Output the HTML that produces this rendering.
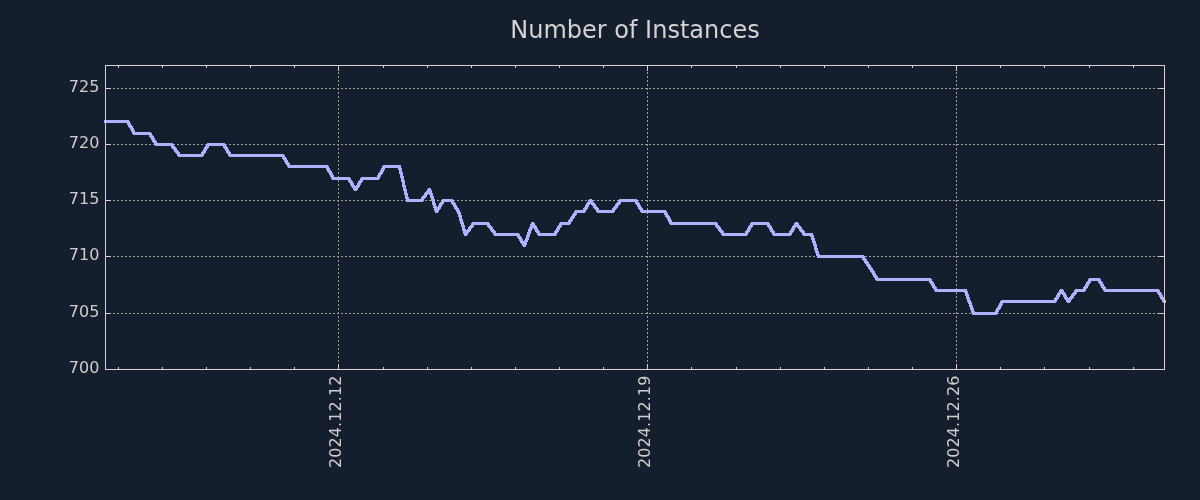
<!DOCTYPE html>
<html lang="en"><head><meta charset="utf-8"><title>Number of Instances</title>
<style>
html,body{margin:0;padding:0;background:#151e2c;}
body{width:1200px;height:500px;overflow:hidden;}
svg{display:block;}
text{font-family:"DejaVu Sans","Liberation Sans",sans-serif;fill:#cecece;}
.tk{font-size:16px;}
.xl{letter-spacing:0.1px;}
.ti{font-size:24px;fill:#d3d3d3;}
</style></head><body>
<svg width="1200" height="500" viewBox="0 0 1200 500">
<rect x="0" y="0" width="1200" height="500" fill="#151e2c"/>
<text class="ti" x="635" y="38" text-anchor="middle">Number of Instances</text>
<g id="grid" stroke="#a0a0a0" stroke-width="1" stroke-dasharray="2 2" fill="none" shape-rendering="crispEdges">
<line x1="105" y1="88.5" x2="1165" y2="88.5"/>
<line x1="105" y1="144.5" x2="1165" y2="144.5"/>
<line x1="105" y1="200.5" x2="1165" y2="200.5"/>
<line x1="105" y1="256.5" x2="1165" y2="256.5"/>
<line x1="105" y1="313.5" x2="1165" y2="313.5"/>
<line x1="338.5" y1="370" x2="338.5" y2="65"/>
<line x1="647.5" y1="370" x2="647.5" y2="65"/>
<line x1="956.5" y1="370" x2="956.5" y2="65"/>
</g>
<path id="series" d="M104 120h25v1h-25zM104 121h26v1h-26zM104 122h26v1h-26zM127 123h4v1h-4zM127 124h4v1h-4zM128 125h4v1h-4zM128 126h5v1h-5zM129 127h4v1h-4zM130 128h4v1h-4zM130 129h4v1h-4zM131 130h4v1h-4zM131 131h4v1h-4zM132 132h19v1h-19zM132 133h20v1h-20zM133 134h19v1h-19zM149 135h4v1h-4zM149 136h5v1h-5zM150 137h4v1h-4zM151 138h4v1h-4zM151 139h4v1h-4zM152 140h4v1h-4zM152 141h5v1h-5zM153 142h4v1h-4zM154 143h19v1h-19zM207 143h18v1h-18zM154 144h20v1h-20zM206 144h20v1h-20zM155 145h19v1h-19zM206 145h20v1h-20zM171 146h4v1h-4zM205 146h4v1h-4zM223 146h4v1h-4zM171 147h5v1h-5zM204 147h5v1h-5zM223 147h5v1h-5zM172 148h5v1h-5zM204 148h4v1h-4zM224 148h4v1h-4zM173 149h4v1h-4zM203 149h4v1h-4zM225 149h4v1h-4zM174 150h4v1h-4zM203 150h4v1h-4zM225 150h4v1h-4zM174 151h5v1h-5zM202 151h4v1h-4zM226 151h4v1h-4zM175 152h5v1h-5zM201 152h5v1h-5zM226 152h5v1h-5zM176 153h4v1h-4zM201 153h4v1h-4zM227 153h4v1h-4zM177 154h27v1h-27zM228 154h56v1h-56zM177 155h27v1h-27zM228 155h57v1h-57zM178 156h25v1h-25zM229 156h56v1h-56zM282 157h4v1h-4zM282 158h5v1h-5zM283 159h4v1h-4zM284 160h4v1h-4zM284 161h4v1h-4zM285 162h4v1h-4zM285 163h5v1h-5zM286 164h4v1h-4zM287 165h41v1h-41zM383 165h18v1h-18zM287 166h42v1h-42zM382 166h19v1h-19zM288 167h41v1h-41zM382 167h19v1h-19zM326 168h4v1h-4zM381 168h4v1h-4zM398 168h4v1h-4zM326 169h4v1h-4zM381 169h4v1h-4zM398 169h4v1h-4zM327 170h4v1h-4zM380 170h4v1h-4zM399 170h3v1h-3zM327 171h5v1h-5zM380 171h4v1h-4zM399 171h3v1h-3zM328 172h4v1h-4zM379 172h4v1h-4zM399 172h4v1h-4zM329 173h4v1h-4zM378 173h5v1h-5zM399 173h4v1h-4zM329 174h4v1h-4zM378 174h4v1h-4zM400 174h3v1h-3zM330 175h4v1h-4zM377 175h4v1h-4zM400 175h3v1h-3zM330 176h4v1h-4zM377 176h4v1h-4zM400 176h4v1h-4zM331 177h19v1h-19zM361 177h19v1h-19zM400 177h4v1h-4zM331 178h20v1h-20zM360 178h20v1h-20zM401 178h3v1h-3zM332 179h19v1h-19zM360 179h19v1h-19zM401 179h3v1h-3zM348 180h4v1h-4zM359 180h4v1h-4zM401 180h4v1h-4zM348 181h5v1h-5zM358 181h5v1h-5zM401 181h4v1h-4zM349 182h4v1h-4zM358 182h4v1h-4zM402 182h3v1h-3zM350 183h4v1h-4zM357 183h4v1h-4zM402 183h3v1h-3zM350 184h4v1h-4zM357 184h4v1h-4zM402 184h3v1h-3zM351 185h4v1h-4zM356 185h4v1h-4zM402 185h4v1h-4zM351 186h9v1h-9zM402 186h4v1h-4zM352 187h7v1h-7zM403 187h3v1h-3zM353 188h5v1h-5zM403 188h3v1h-3zM428 188h3v1h-3zM353 189h5v1h-5zM403 189h4v1h-4zM427 189h4v1h-4zM354 190h3v1h-3zM403 190h4v1h-4zM427 190h5v1h-5zM404 191h3v1h-3zM426 191h6v1h-6zM404 192h3v1h-3zM425 192h7v1h-7zM404 193h4v1h-4zM424 193h9v1h-9zM404 194h4v1h-4zM424 194h4v1h-4zM429 194h4v1h-4zM405 195h3v1h-3zM423 195h4v1h-4zM430 195h3v1h-3zM405 196h3v1h-3zM422 196h5v1h-5zM430 196h4v1h-4zM405 197h4v1h-4zM421 197h5v1h-5zM430 197h4v1h-4zM405 198h4v1h-4zM421 198h4v1h-4zM431 198h3v1h-3zM406 199h18v1h-18zM431 199h4v1h-4zM442 199h11v1h-11zM589 199h3v1h-3zM619 199h18v1h-18zM406 200h18v1h-18zM431 200h4v1h-4zM441 200h13v1h-13zM588 200h5v1h-5zM618 200h20v1h-20zM406 201h17v1h-17zM432 201h3v1h-3zM441 201h13v1h-13zM588 201h5v1h-5zM618 201h20v1h-20zM432 202h3v1h-3zM440 202h4v1h-4zM451 202h4v1h-4zM587 202h7v1h-7zM617 202h4v1h-4zM635 202h4v1h-4zM432 203h4v1h-4zM439 203h5v1h-5zM451 203h5v1h-5zM586 203h9v1h-9zM616 203h5v1h-5zM635 203h5v1h-5zM432 204h4v1h-4zM439 204h4v1h-4zM452 204h4v1h-4zM586 204h4v1h-4zM591 204h5v1h-5zM615 204h5v1h-5zM636 204h4v1h-4zM433 205h3v1h-3zM438 205h4v1h-4zM453 205h4v1h-4zM585 205h4v1h-4zM592 205h4v1h-4zM615 205h4v1h-4zM637 205h4v1h-4zM433 206h4v1h-4zM438 206h4v1h-4zM453 206h4v1h-4zM585 206h4v1h-4zM593 206h4v1h-4zM614 206h4v1h-4zM637 206h4v1h-4zM433 207h8v1h-8zM454 207h4v1h-4zM584 207h4v1h-4zM593 207h5v1h-5zM613 207h5v1h-5zM638 207h4v1h-4zM434 208h7v1h-7zM454 208h5v1h-5zM583 208h5v1h-5zM594 208h5v1h-5zM612 208h5v1h-5zM638 208h5v1h-5zM434 209h6v1h-6zM455 209h4v1h-4zM583 209h4v1h-4zM595 209h4v1h-4zM612 209h4v1h-4zM639 209h4v1h-4zM434 210h5v1h-5zM456 210h4v1h-4zM575 210h11v1h-11zM596 210h19v1h-19zM640 210h26v1h-26zM435 211h4v1h-4zM456 211h4v1h-4zM574 211h12v1h-12zM596 211h19v1h-19zM640 211h27v1h-27zM435 212h3v1h-3zM457 212h4v1h-4zM574 212h11v1h-11zM597 212h17v1h-17zM641 212h26v1h-26zM457 213h4v1h-4zM573 213h4v1h-4zM664 213h4v1h-4zM458 214h3v1h-3zM572 214h5v1h-5zM664 214h4v1h-4zM458 215h4v1h-4zM572 215h4v1h-4zM665 215h4v1h-4zM458 216h4v1h-4zM571 216h4v1h-4zM665 216h5v1h-5zM459 217h3v1h-3zM570 217h5v1h-5zM666 217h4v1h-4zM459 218h3v1h-3zM570 218h4v1h-4zM667 218h4v1h-4zM459 219h4v1h-4zM569 219h4v1h-4zM667 219h4v1h-4zM459 220h4v1h-4zM568 220h5v1h-5zM668 220h4v1h-4zM460 221h3v1h-3zM568 221h4v1h-4zM668 221h4v1h-4zM460 222h4v1h-4zM472 222h17v1h-17zM531 222h3v1h-3zM560 222h11v1h-11zM669 222h48v1h-48zM751 222h18v1h-18zM795 222h3v1h-3zM460 223h4v1h-4zM471 223h19v1h-19zM531 223h4v1h-4zM559 223h12v1h-12zM669 223h49v1h-49zM750 223h20v1h-20zM794 223h5v1h-5zM461 224h3v1h-3zM471 224h19v1h-19zM530 224h5v1h-5zM559 224h11v1h-11zM670 224h48v1h-48zM750 224h20v1h-20zM794 224h5v1h-5zM461 225h4v1h-4zM470 225h4v1h-4zM487 225h4v1h-4zM530 225h6v1h-6zM558 225h4v1h-4zM715 225h4v1h-4zM749 225h4v1h-4zM767 225h4v1h-4zM793 225h7v1h-7zM461 226h4v1h-4zM469 226h5v1h-5zM487 226h5v1h-5zM530 226h7v1h-7zM557 226h5v1h-5zM715 226h5v1h-5zM748 226h5v1h-5zM767 226h5v1h-5zM792 226h9v1h-9zM462 227h3v1h-3zM468 227h5v1h-5zM488 227h5v1h-5zM529 227h8v1h-8zM557 227h4v1h-4zM716 227h5v1h-5zM748 227h4v1h-4zM768 227h4v1h-4zM792 227h4v1h-4zM797 227h5v1h-5zM462 228h3v1h-3zM468 228h4v1h-4zM489 228h4v1h-4zM529 228h4v1h-4zM534 228h4v1h-4zM556 228h4v1h-4zM717 228h4v1h-4zM747 228h4v1h-4zM769 228h4v1h-4zM791 228h4v1h-4zM798 228h4v1h-4zM462 229h4v1h-4zM467 229h4v1h-4zM490 229h4v1h-4zM528 229h4v1h-4zM534 229h4v1h-4zM556 229h4v1h-4zM718 229h4v1h-4zM747 229h4v1h-4zM769 229h4v1h-4zM791 229h4v1h-4zM799 229h4v1h-4zM462 230h9v1h-9zM490 230h5v1h-5zM528 230h4v1h-4zM535 230h4v1h-4zM555 230h4v1h-4zM718 230h5v1h-5zM746 230h4v1h-4zM770 230h4v1h-4zM790 230h4v1h-4zM799 230h5v1h-5zM463 231h7v1h-7zM491 231h5v1h-5zM528 231h3v1h-3zM535 231h5v1h-5zM554 231h5v1h-5zM719 231h5v1h-5zM745 231h5v1h-5zM770 231h5v1h-5zM789 231h5v1h-5zM800 231h5v1h-5zM463 232h6v1h-6zM492 232h4v1h-4zM527 232h4v1h-4zM536 232h4v1h-4zM554 232h4v1h-4zM720 232h4v1h-4zM745 232h4v1h-4zM771 232h4v1h-4zM789 232h4v1h-4zM801 232h4v1h-4zM463 233h5v1h-5zM493 233h26v1h-26zM527 233h4v1h-4zM537 233h20v1h-20zM721 233h27v1h-27zM772 233h20v1h-20zM802 233h11v1h-11zM464 234h4v1h-4zM493 234h27v1h-27zM527 234h3v1h-3zM537 234h20v1h-20zM721 234h27v1h-27zM772 234h20v1h-20zM802 234h11v1h-11zM464 235h3v1h-3zM494 235h26v1h-26zM526 235h4v1h-4zM538 235h18v1h-18zM722 235h25v1h-25zM773 235h18v1h-18zM803 235h11v1h-11zM517 236h4v1h-4zM526 236h4v1h-4zM810 236h4v1h-4zM517 237h5v1h-5zM526 237h3v1h-3zM811 237h3v1h-3zM518 238h4v1h-4zM525 238h4v1h-4zM811 238h4v1h-4zM519 239h4v1h-4zM525 239h4v1h-4zM811 239h4v1h-4zM519 240h4v1h-4zM524 240h4v1h-4zM812 240h3v1h-3zM520 241h8v1h-8zM812 241h4v1h-4zM520 242h7v1h-7zM812 242h4v1h-4zM521 243h6v1h-6zM813 243h3v1h-3zM522 244h5v1h-5zM813 244h4v1h-4zM522 245h4v1h-4zM813 245h4v1h-4zM523 246h3v1h-3zM814 246h3v1h-3zM814 247h3v1h-3zM814 248h4v1h-4zM814 249h4v1h-4zM815 250h3v1h-3zM815 251h4v1h-4zM815 252h4v1h-4zM816 253h3v1h-3zM816 254h4v1h-4zM816 255h48v1h-48zM817 256h48v1h-48zM817 257h48v1h-48zM862 258h4v1h-4zM862 259h5v1h-5zM863 260h4v1h-4zM864 261h4v1h-4zM864 262h5v1h-5zM865 263h4v1h-4zM866 264h4v1h-4zM866 265h5v1h-5zM867 266h4v1h-4zM868 267h4v1h-4zM868 268h5v1h-5zM869 269h4v1h-4zM870 270h4v1h-4zM870 271h5v1h-5zM871 272h4v1h-4zM872 273h4v1h-4zM872 274h4v1h-4zM873 275h4v1h-4zM873 276h5v1h-5zM874 277h4v1h-4zM875 278h56v1h-56zM1089 278h11v1h-11zM875 279h57v1h-57zM1088 279h13v1h-13zM876 280h56v1h-56zM1088 280h13v1h-13zM929 281h4v1h-4zM1087 281h4v1h-4zM1098 281h4v1h-4zM929 282h5v1h-5zM1086 282h5v1h-5zM1098 282h5v1h-5zM930 283h4v1h-4zM1086 283h4v1h-4zM1099 283h4v1h-4zM931 284h4v1h-4zM1085 284h4v1h-4zM1100 284h4v1h-4zM931 285h4v1h-4zM1085 285h4v1h-4zM1100 285h4v1h-4zM932 286h4v1h-4zM1084 286h4v1h-4zM1101 286h4v1h-4zM932 287h5v1h-5zM1083 287h5v1h-5zM1101 287h5v1h-5zM933 288h4v1h-4zM1083 288h4v1h-4zM1102 288h4v1h-4zM934 289h33v1h-33zM1060 289h3v1h-3zM1075 289h11v1h-11zM1103 289h56v1h-56zM934 290h33v1h-33zM1059 290h5v1h-5zM1074 290h12v1h-12zM1103 290h57v1h-57zM935 291h33v1h-33zM1059 291h5v1h-5zM1074 291h11v1h-11zM1104 291h56v1h-56zM964 292h4v1h-4zM1058 292h7v1h-7zM1073 292h4v1h-4zM1157 292h4v1h-4zM965 293h3v1h-3zM1057 293h9v1h-9zM1072 293h5v1h-5zM1157 293h5v1h-5zM965 294h4v1h-4zM1057 294h4v1h-4zM1062 294h4v1h-4zM1071 294h5v1h-5zM1158 294h4v1h-4zM965 295h4v1h-4zM1056 295h4v1h-4zM1063 295h4v1h-4zM1071 295h4v1h-4zM1159 295h4v1h-4zM966 296h3v1h-3zM1056 296h4v1h-4zM1063 296h4v1h-4zM1070 296h4v1h-4zM1159 296h4v1h-4zM966 297h4v1h-4zM1055 297h4v1h-4zM1064 297h4v1h-4zM1069 297h5v1h-5zM1160 297h4v1h-4zM966 298h4v1h-4zM1054 298h5v1h-5zM1064 298h9v1h-9zM1160 298h5v1h-5zM967 299h3v1h-3zM1054 299h4v1h-4zM1065 299h7v1h-7zM1161 299h4v1h-4zM967 300h4v1h-4zM1001 300h56v1h-56zM1066 300h5v1h-5zM1162 300h4v1h-4zM967 301h4v1h-4zM1000 301h57v1h-57zM1066 301h5v1h-5zM1162 301h4v1h-4zM968 302h4v1h-4zM1000 302h56v1h-56zM1067 302h3v1h-3zM1163 302h3v1h-3zM968 303h4v1h-4zM999 303h4v1h-4zM969 304h3v1h-3zM999 304h4v1h-4zM969 305h4v1h-4zM998 305h4v1h-4zM969 306h4v1h-4zM998 306h4v1h-4zM970 307h3v1h-3zM997 307h4v1h-4zM970 308h4v1h-4zM996 308h5v1h-5zM970 309h4v1h-4zM996 309h4v1h-4zM971 310h3v1h-3zM995 310h4v1h-4zM971 311h4v1h-4zM995 311h4v1h-4zM971 312h27v1h-27zM972 313h26v1h-26zM972 314h25v1h-25z" fill="#b0b0ff" shape-rendering="crispEdges"/>
<path id="frame" d="M106 88h5v1h-5zM1159 88h5v1h-5zM106 144h5v1h-5zM1159 144h5v1h-5zM106 200h5v1h-5zM1159 200h5v1h-5zM106 256h5v1h-5zM1159 256h5v1h-5zM106 313h5v1h-5zM1159 313h5v1h-5zM118 367h1v2h-1zM118 66h1v2h-1zM162 367h1v2h-1zM162 66h1v2h-1zM206 367h1v2h-1zM206 66h1v2h-1zM250 367h1v2h-1zM250 66h1v2h-1zM294 367h1v2h-1zM294 66h1v2h-1zM338 364h1v5h-1zM338 66h1v5h-1zM383 367h1v2h-1zM383 66h1v2h-1zM427 367h1v2h-1zM427 66h1v2h-1zM471 367h1v2h-1zM471 66h1v2h-1zM515 367h1v2h-1zM515 66h1v2h-1zM559 367h1v2h-1zM559 66h1v2h-1zM603 367h1v2h-1zM603 66h1v2h-1zM647 364h1v5h-1zM647 66h1v5h-1zM691 367h1v2h-1zM691 66h1v2h-1zM736 367h1v2h-1zM736 66h1v2h-1zM780 367h1v2h-1zM780 66h1v2h-1zM824 367h1v2h-1zM824 66h1v2h-1zM868 367h1v2h-1zM868 66h1v2h-1zM912 367h1v2h-1zM912 66h1v2h-1zM956 364h1v5h-1zM956 66h1v5h-1zM1000 367h1v2h-1zM1000 66h1v2h-1zM1044 367h1v2h-1zM1044 66h1v2h-1zM1089 367h1v2h-1zM1089 66h1v2h-1zM1133 367h1v2h-1zM1133 66h1v2h-1zM105 65h1060v1h-1060zM105 369h1060v1h-1060zM105 65h1v305h-1zM1164 65h1v305h-1z" fill="#d3d3d3" shape-rendering="crispEdges"/>
<g id="ylabels" class="tk" text-anchor="end">
<text x="99.4" y="92.3">725</text>
<text x="99.4" y="148.3">720</text>
<text x="99.4" y="204.3">715</text>
<text x="99.4" y="260.3">710</text>
<text x="99.4" y="317.3">705</text>
<text x="99.4" y="373.3">700</text>
</g>
<g id="xlabels" class="tk xl">
<text transform="translate(341.4,468) rotate(-90)">2024.12.12</text>
<text transform="translate(650.4,468) rotate(-90)">2024.12.19</text>
<text transform="translate(959.4,468) rotate(-90)">2024.12.26</text>
</g>
</svg></body></html>
